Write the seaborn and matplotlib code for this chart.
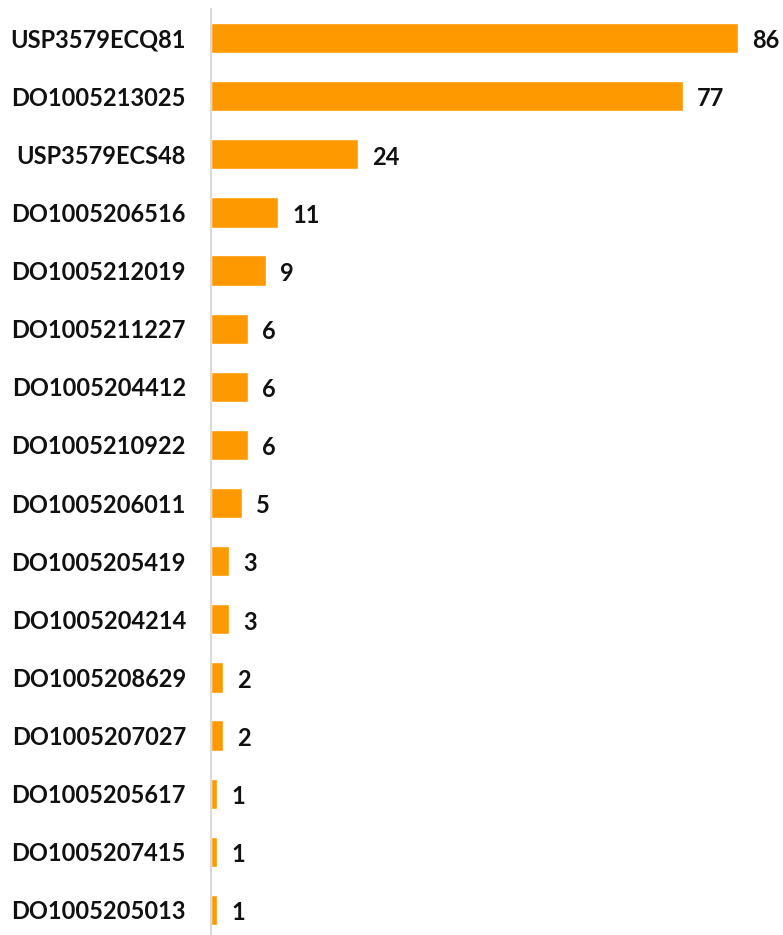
import matplotlib
matplotlib.use("Agg")
from matplotlib import pyplot as plt
import pandas as pd
import seaborn as sns

parts = ["USP3579ECQ81", "DO1005213025", "USP3579ECS48", "DO1005206516",
         "DO1005212019", "DO1005211227", "DO1005204412", "DO1005210922",
         "DO1005206011", "DO1005205419", "DO1005204214", "DO1005208629",
         "DO1005207027", "DO1005205617", "DO1005207415", "DO1005205013"]
counts = [86, 77, 24, 11, 9, 6, 6, 6, 5, 3, 3, 2, 2, 1, 1, 1]

data = pd.DataFrame({'Part': parts, 'Count': counts})

sns.set_style('white')
plt.rcParams['font.family'] = ['Lato', 'DejaVu Sans']

fig = plt.figure(figsize=(7.83, 9.35), dpi=100)
ax = fig.add_axes([211 / 783, -4 / 935, 552 / 783, 930 / 935])

sns.barplot(data=data, x='Count', y='Part', orient='h', color='#FF9900',
            saturation=1, width=0.52, ax=ax)

ax.set_xlim(0, 90)
ax.set_ylim(15.5, -0.5)
ax.set_xlabel('')
ax.set_ylabel('')
ax.set_xticks([])
for s in ['top', 'right', 'bottom']:
    ax.spines[s].set_visible(False)
ax.spines['left'].set_color('#D9D9D9')
ax.spines['left'].set_linewidth(1.5)
ax.tick_params(axis='y', length=0, pad=18)
for lbl in ax.get_yticklabels():
    lbl.set_fontsize(17)
    lbl.set_fontweight('bold')
    lbl.set_color('#111111')

texts = ax.bar_label(ax.containers[0], padding=10, fontsize=17, fontweight='bold', color='#111111')
for t in texts:
    t.set_va('center')
    t.set_y(-2)

fig.savefig('out.png', dpi=100)
